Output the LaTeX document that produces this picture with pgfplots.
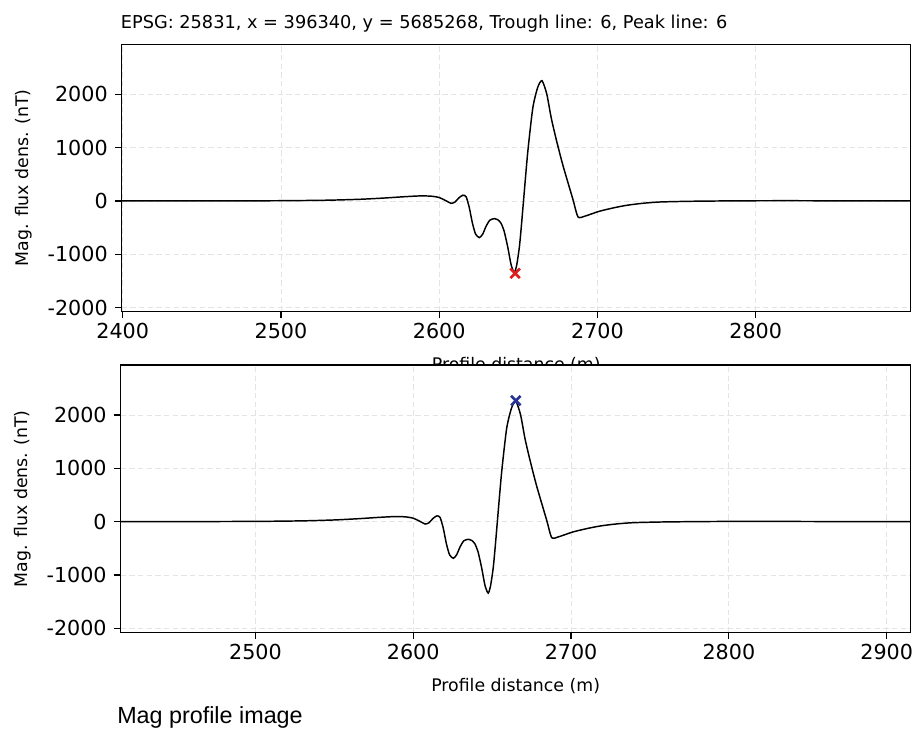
\documentclass[border=0pt]{standalone}
\usepackage{pgfplots}
\pgfplotsset{compat=1.18}
\usepackage{pgfplotstable}
\usepackage{fontspec}
\setmainfont{DejaVu Sans}
\newfontfamily\capfont{Liberation Sans}
\definecolor{mkred}{RGB}{222,30,30}
\definecolor{mkblue}{RGB}{38,52,150}
\definecolor{gridc}{RGB}{228,228,228}

\pgfplotstableread{
x y
2380 0
2450 1
2500 5
2530 15
2550 32
2565 55
2578 80
2588 95
2595 90
2600 65
2604 10
2607.5 -44
2610 -20
2612.5 60
2615 108
2617 80
2619 -120
2621 -413
2623 -620
2625.4 -687
2627.5 -620
2629.6 -477
2632 -360
2635 -330
2637 -350
2639 -413
2641 -560
2643.3 -859
2645.5 -1200
2647.5 -1340
2649 -1200
2650.7 -859
2652 -450
2653.2 -31
2656 924
2659.2 1750
2662.3 2132
2665 2255
2668 2004
2670.8 1559
2674 1150
2678.2 668
2684.5 32
2687.7 -298
2691.9 -286
2696 -245
2701.4 -191
2710 -130
2718.3 -82
2728 -45
2739.4 -19
2760 -5
2790 3
2820 5
2850 3
2880 1
2930 0
}\magdata

\pgfplotsset{
  magstyle/.style={
    scale only axis,
    anchor=south west,
    ymin=-2075, ymax=2937,
    ytick={-2000,-1000,0,1000,2000},
    yticklabels={-2000,-1000,0,1000,2000},
    tick pos=left,
    tick align=outside,
    major tick length=5pt,
    every tick/.style={black, line width=0.9pt},
    axis line style={black, line width=1.1pt},
    grid=major,
    major grid style={gridc, dash pattern=on 4pt off 2.5pt, line width=0.6pt},
    tick label style={font=\fontsize{15.5}{18}\selectfont},
    yticklabel style={xshift=-2pt},
    every axis x label/.style={at={(axis description cs:0.5,-0.2)}, anchor=center, font=\fontsize{13}{15}\selectfont},
    every axis y label/.style={at={(axis description cs:-0.1238,0.5)}, anchor=center, rotate=90, font=\fontsize{13}{15}\selectfont},
    xlabel={Profile distance (m)},
    ylabel={Mag. flux dens. (nT)},
    axis background/.style={fill=white},
  }
}

\begin{document}
\begin{tikzpicture}
\path[use as bounding box] (0,0) rectangle (687pt,546.75pt);
\node[anchor=base west, inner sep=0, font=\fontsize{13.3}{15}\selectfont] at (90.5pt,525.5pt)
  {EPSG: 25831, x = 396340, y = 5685268, Trough line: 6, Peak line: 6};

\begin{axis}[magstyle,
  at={(91.3pt,312.98pt)}, width=591.75pt, height=200.55pt,
  xmin=2399.4, xmax=2898,
  xtick={2400,2500,2600,2700,2800},
  xticklabels={2400,2500,2600,2700,2800}]
\addplot[black, line width=1.1pt, smooth, tension=0.4] table {\magdata};
\addplot[only marks, mark=x, mark size=5pt, mark options={line width=2pt, color=mkred}] coordinates {(2648,-1355)};
\end{axis}

\begin{axis}[magstyle,
  at={(90.5pt,72.5pt)}, width=592.5pt, height=200.5pt,
  xmin=2414.6, xmax=2915.2,
  xtick={2500,2600,2700,2800,2900},
  xticklabels={2500,2600,2700,2800,2900}]
\addplot[black, line width=1.1pt, smooth, tension=0.4] table {\magdata};
\addplot[only marks, mark=x, mark size=5pt, mark options={line width=2pt, color=mkblue}] coordinates {(2665,2270)};
\end{axis}

\node[anchor=base west, inner sep=0, font=\capfont\fontsize{17.5}{20}\selectfont] at (87.75pt,4.3pt) {Mag profile image};
\end{tikzpicture}
\end{document}
